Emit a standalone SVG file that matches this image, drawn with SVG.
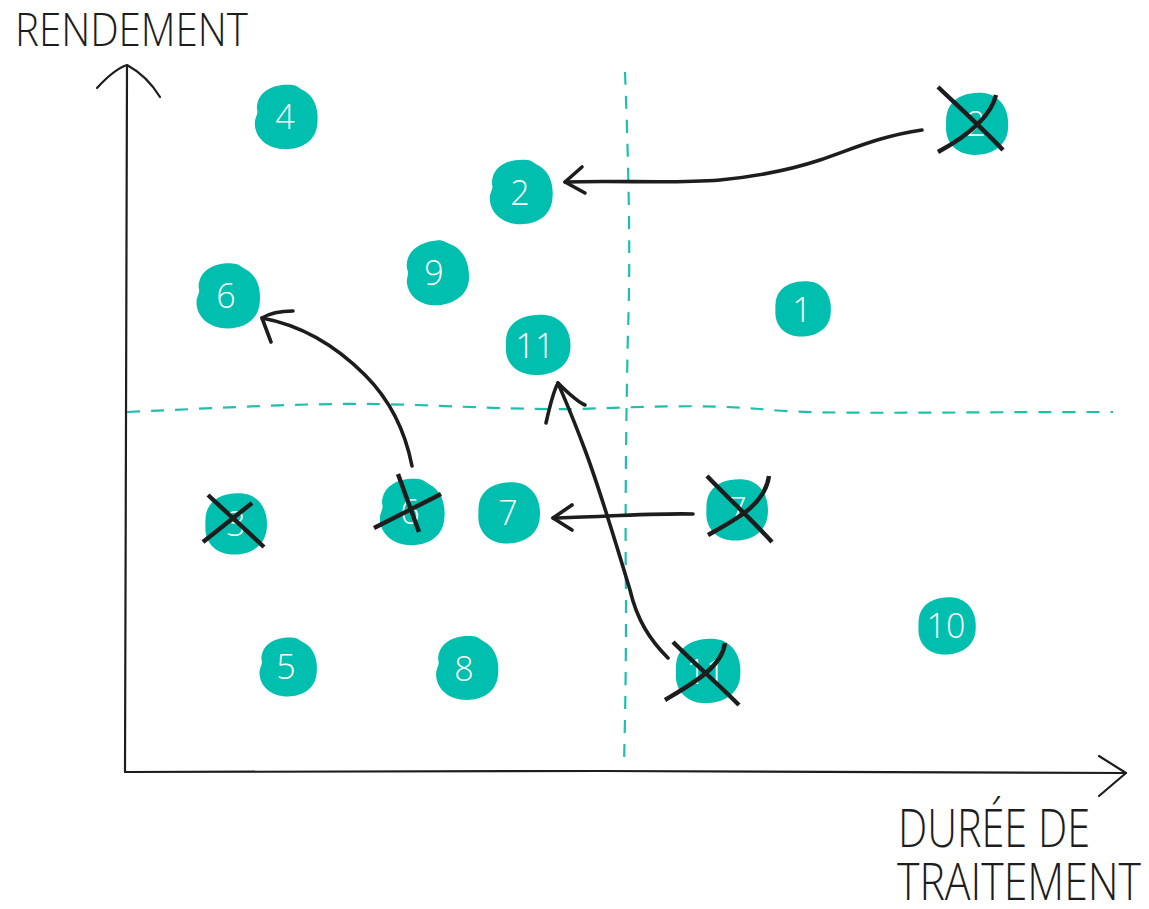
<svg xmlns="http://www.w3.org/2000/svg" width="1149" height="909" viewBox="0 0 1149 909">
  <style>
    .ink { fill: none; stroke: #1d1d1d; stroke-width: 3.6; stroke-linecap: round; stroke-linejoin: round; }
    .axis { fill: none; stroke: #1d1d1d; stroke-width: 2.2; stroke-linecap: round; stroke-linejoin: round; }
    .dash { fill: none; stroke: #1fbfae; stroke-width: 2.2; stroke-dasharray: 13 11; }
    .cross { fill: none; stroke: #1d1d1d; stroke-width: 4.4; stroke-linecap: butt; }
    .blob { fill: #00bfae; }
    .num { fill: #ffffff; font-family: "Open Sans", "Liberation Sans", sans-serif; font-weight: 300; font-size: 34px; text-anchor: middle; }
    .label { fill: #1d1d1d; font-family: "Open Sans", "Liberation Sans", sans-serif; font-weight: 300; }
  </style>
  <defs>
    <path id="blob" d="M -28,-8 C -28,-26 -10,-32 4,-31 C 10,-31 12,-28 16,-26 C 28,-20 32,-6 30,8 C 28,24 14,31 0,31 C -18,31 -30,20 -30,6 C -30,0 -26,-3 -28,-8 Z"/>
    <path id="blob2" d="M -26,-18 C -18,-30 0,-32 12,-29 C 26,-24 32,-10 30,6 C 28,22 14,30 -2,30 C -20,30 -31,18 -30,2 C -30,-6 -30,-12 -26,-18 Z"/>
  </defs>

  <!-- axes -->
  <g id="axes">
    <path class="axis" d="M125,772 L126,420 L127,66"/>
    <path class="axis" d="M97,88 C108,76 118,68 127,65 C140,72 152,84 160,97"/>
    <path class="axis" d="M125,772 L600,771 L1126,773"/>
    <path class="axis" d="M1099,756 L1126,773 L1099,796"/>
  </g>

  <!-- quadrant dividers -->
  <g id="dividers">
    <path class="dash" d="M625,72 C628,150 631,250 628,330 C626,420 625,520 626,600 C626,680 625,720 624,765"/>
    <path class="dash" d="M127,412 C220,408 300,403 380,404 C460,406 520,410 580,409 C640,407 700,404 760,409 C820,415 900,412 1113,412"/>
  </g>

  <!-- axis labels: tall, narrow lettering -->
  <g id="labels">
    <text class="label" transform="translate(15,46) scale(1,1.3)" font-size="35" textLength="233" lengthAdjust="spacingAndGlyphs">RENDEMENT</text>
    <text class="label" transform="translate(898,847) scale(1,1.3)" font-size="41" textLength="192" lengthAdjust="spacingAndGlyphs">DURÉE DE</text>
    <text class="label" transform="translate(897,900) scale(1,1.3)" font-size="40" textLength="244" lengthAdjust="spacingAndGlyphs">TRAITEMENT</text>
  </g>

  <!-- nodes -->
  <g id="node-4"><use class="blob" href="#blob" transform="translate(286,117) scale(1.04)"/><text class="num" x="285" y="129">4</text></g>
  <g id="node-2-old"><use class="blob" href="#blob2" transform="translate(977,124) scale(1.03)"/><text class="num" x="976" y="136">2</text>
    <path class="cross" d="M938,87 C960,108 984,130 1003,150"/><path class="cross" d="M938,152 C960,140 990,120 996,95"/></g>
  <g id="node-2"><use class="blob" href="#blob" transform="translate(521,192) scale(1.04)"/><text class="num" x="520" y="205">2</text></g>
  <g id="node-9"><use class="blob" href="#blob" transform="translate(437,273) rotate(-8) scale(1.04)"/><text class="num" x="434" y="285">9</text></g>
  <g id="node-6"><use class="blob" href="#blob" transform="translate(228,296) scale(1.05)"/><text class="num" x="226" y="308">6</text></g>
  <g id="node-1"><use class="blob" href="#blob2" transform="translate(803,309) scale(0.92)"/><text class="num" x="802" y="322">1</text></g>
  <g id="node-11"><use class="blob" href="#blob2" transform="translate(538,345) scale(1.07,1.0)"/><text class="num" x="535" y="358">11</text></g>
  <g id="node-3-old"><use class="blob" href="#blob2" transform="translate(236,524) scale(1.02)"/><text class="num" x="236" y="536">3</text>
    <path class="cross" d="M208,495 L264,547"/><path class="cross" d="M203,542 L252,503"/></g>
  <g id="node-6-old"><use class="blob" href="#blob" transform="translate(412,512) scale(1.07)"/><text class="num" x="410" y="524">6</text>
    <path class="cross" d="M398,474 L419,532"/><path class="cross" d="M374,528 L441,494"/></g>
  <g id="node-7"><use class="blob" href="#blob2" transform="translate(509,513) scale(1.02)"/><text class="num" x="508" y="525">7</text></g>
  <g id="node-7-old"><use class="blob" href="#blob2" transform="translate(737,510) scale(1.02)"/><text class="num" x="737" y="522">7</text>
    <path class="cross" d="M707,476 C730,500 752,520 772,542"/><path class="cross" d="M708,535 C735,520 765,505 769,476"/></g>
  <g id="node-10"><use class="blob" href="#blob2" transform="translate(947,626) scale(0.95)"/><text class="num" x="946" y="638">10</text></g>
  <g id="node-5"><use class="blob" href="#blob" transform="translate(288,667) scale(0.95)"/><text class="num" x="286" y="679">5</text></g>
  <g id="node-8"><use class="blob" href="#blob" transform="translate(467,668) scale(1.03)"/><text class="num" x="464" y="681">8</text></g>
  <g id="node-11-old"><use class="blob" href="#blob2" transform="translate(708,671) scale(1.07)"/><text class="num" x="706" y="684">11</text>
    <path class="cross" d="M673,642 C695,664 718,684 739,705"/><path class="cross" d="M665,700 C690,685 722,668 725,643"/></g>

  <!-- moves -->
  <g id="connectors">
    <path class="ink" d="M922,130 C880,136 850,150 820,160 C790,170 760,176 720,180 C670,184 620,180 565,182"/>
    <path class="ink" d="M582,167 L565,182 L585,193"/>
    <path class="ink" d="M412,466 C405,430 390,400 365,375 C335,345 300,325 262,318"/>
    <path class="ink" d="M293,311 C280,311 270,313 262,318 L271,342"/>
    <path class="ink" d="M693,514 C650,513 600,517 553,518"/>
    <path class="ink" d="M572,505 L553,518 L572,530"/>
    <path class="ink" d="M668,658 C650,640 637,620 630,590 C615,540 600,490 585,450 C572,415 563,395 558,383"/>
    <path class="ink" d="M546,423 C550,405 553,392 558,383 C570,395 578,402 585,405"/>
  </g>
</svg>
